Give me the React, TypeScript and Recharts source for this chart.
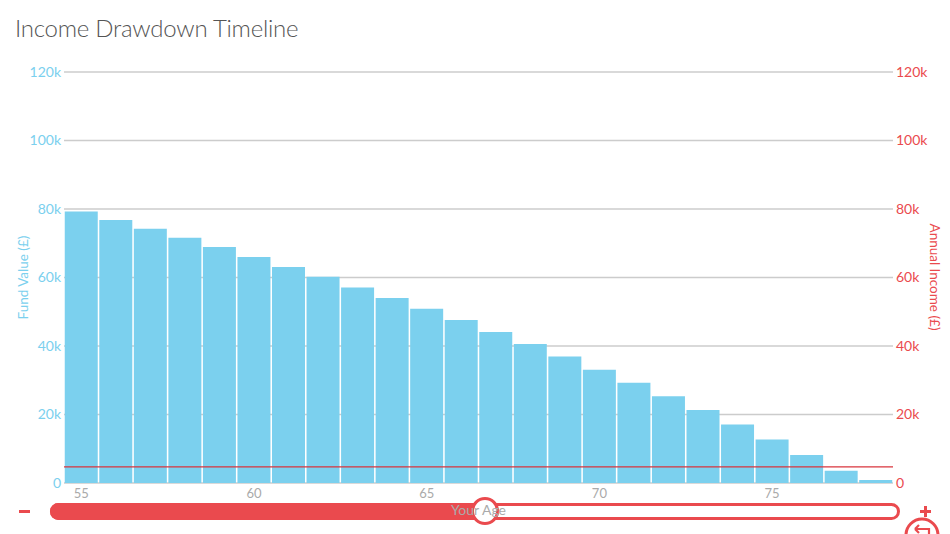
import { Bar, CartesianGrid, ComposedChart, Line, ReferenceLine, XAxis, YAxis } from 'recharts';

const ages = [55, 56, 57, 58, 59, 60, 61, 62, 63, 64, 65, 66, 67, 68, 69, 70, 71, 72, 73, 74, 75, 76, 77, 78];
const fundValues = [
  79300, 76800, 74200, 71600, 68900, 66000, 63100, 60200, 57100, 54000, 50900, 47600,
  44100, 40600, 36900, 33100, 29300, 25300, 21300, 17100, 12700, 8200, 3600, 900
];
const annualIncome = 4700;
const axisTicks = [0, 20000, 40000, 60000, 80000, 100000, 120000];
const ageTicks = [55, 60, 65, 70, 75];

const data = ages.map((age, i) => ({ age, fund: fundValues[i], income: annualIncome }));

const BLUE = '#7BD0EE';
const RED = '#EA4A4E';
const FONT = 'Lato, sans-serif';

const formatK = (val: number) => (val === 0 ? '0' : `${val / 1000}k`);

function Slider() {
  return (
    <>
      <div style={{ position: 'absolute', left: 50, top: 503, width: 850, height: 17, boxSizing: 'border-box', border: `3px solid ${RED}`, borderRadius: 9, background: '#fff' }} />
      <div style={{ position: 'absolute', left: 50, top: 503, width: 435, height: 17, background: RED, borderRadius: '9px 0 0 9px' }} />
      <div style={{ position: 'absolute', left: 471, top: 497, width: 28, height: 28, boxSizing: 'border-box', border: `3px solid ${RED}`, borderRadius: '50%', background: '#fff' }} />
      <div style={{ position: 'absolute', left: 19, top: 510, width: 11, height: 3, background: RED }} />
      <div style={{ position: 'absolute', left: 920, top: 510, width: 11, height: 3, background: RED }} />
      <div style={{ position: 'absolute', left: 924, top: 506, width: 3, height: 11, background: RED }} />
      <svg width={44} height={18} style={{ position: 'absolute', left: 900, top: 516 }}>
        <circle cx={22} cy={19} r={16} fill="none" stroke={RED} strokeWidth={3} />
        <path d="M15 13 L29 13 L29 18 M15 13 L19 9 M15 13 L19 17" fill="none" stroke={RED} strokeWidth={2.2} />
      </svg>
    </>
  );
}

export default function App() {
  return (
    <div style={{ position: 'absolute', left: 0, top: 0, width: 950, height: 534, overflow: 'hidden', background: '#fff', fontFamily: FONT }}>
      <div style={{ position: 'absolute', left: 15, top: 13, fontSize: 24, fontWeight: 300, color: '#555', letterSpacing: -0.25, whiteSpace: 'nowrap' }}>
        Income Drawdown Timeline
      </div>
      <Slider />
      <div style={{ position: 'absolute', left: 0, top: 0 }}>
        <ComposedChart
          width={950}
          height={534}
          data={data}
          barCategoryGap={0.75}
          margin={{ top: 72, right: 0, bottom: 0, left: 0 }}
        >
          <CartesianGrid yAxisId="left" horizontal vertical={false} stroke="#cccccc" strokeWidth={1.3} />
          <XAxis
            dataKey="age"
            ticks={ageTicks}
            interval={0}
            height={51}
            tickLine={false}
            axisLine={false}
            tick={{ fill: '#aaaaaa', fontSize: 13, fontFamily: FONT }}
            tickMargin={0}
            label={{ value: 'Your Age', position: 'insideBottom', offset: 19, fill: '#aaaaaa', fontSize: 14, fontFamily: FONT }}
          />
          <YAxis
            yAxisId="left"
            width={64}
            domain={[0, 120000]}
            ticks={axisTicks}
            tickFormatter={formatK}
            tickLine={false}
            tickSize={0}
            axisLine={false}
            tickMargin={3}
            tick={{ fill: BLUE, fontSize: 14, fontFamily: FONT }}
            label={{ value: 'Fund Value (£)', angle: -90, position: 'insideLeft', offset: 23, fill: BLUE, fontSize: 13.5, fontFamily: FONT, dy: 42 }}
          />
          <YAxis
            yAxisId="right"
            orientation="right"
            width={57}
            domain={[0, 120000]}
            ticks={axisTicks}
            tickFormatter={formatK}
            tickLine={false}
            tickSize={0}
            axisLine={false}
            tickMargin={3}
            tick={{ fill: RED, fontSize: 14, fontFamily: FONT }}
            label={{ value: 'Annual Income (£)', angle: 90, position: 'insideRight', offset: 15, fill: RED, fontSize: 13.5, fontFamily: FONT, dy: 53 }}
          />
          <Bar yAxisId="left" dataKey="fund" fill={BLUE} isAnimationActive={false} />
          <Line yAxisId="right" dataKey="income" stroke="none" dot={false} activeDot={false} legendType="none" isAnimationActive={false} />
          <ReferenceLine yAxisId="right" y={annualIncome} stroke="#D9343C" strokeWidth={1.2} />
        </ComposedChart>
      </div>
    </div>
  );
}
